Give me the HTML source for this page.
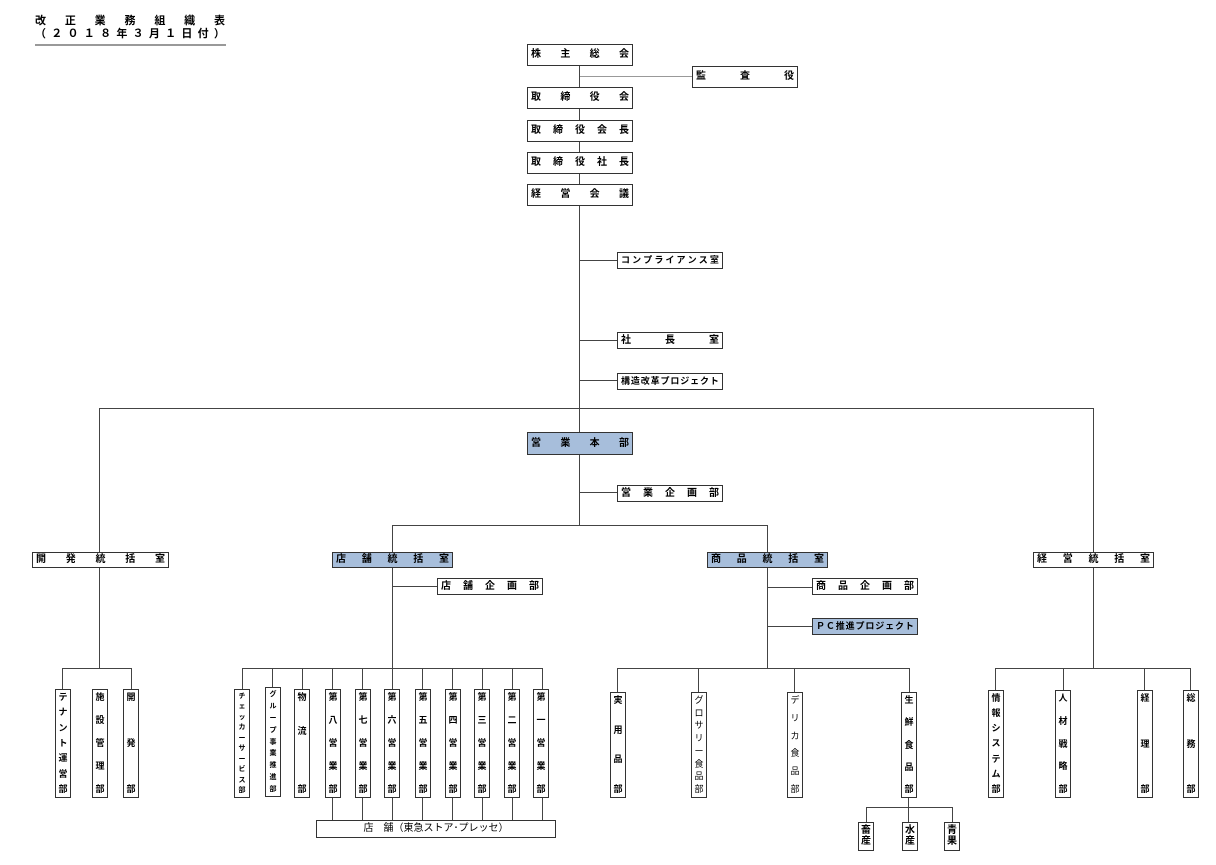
<!DOCTYPE html>
<html><head><meta charset="utf-8"><style>
body{margin:0;width:1216px;height:865px;background:#fff;position:relative;overflow:hidden;font-family:"Liberation Sans","Noto Sans CJK JP",sans-serif;}
.h,.v{position:absolute;box-sizing:border-box;border:1.5px solid #333;background:#fff;display:flex;justify-content:space-between;align-items:center;font-size:10px;font-weight:bold;color:#000;line-height:1;}
.h{padding:0 3px;}
.v{flex-direction:column;padding:3px 0;font-size:9px;}
.b{background:#a7bedb;}
.l{position:absolute;background:#444;}
.t{position:absolute;font-size:11px;font-weight:bold;display:flex;justify-content:space-between;width:190px;left:35px;line-height:1;}
</style></head><body>
<div class="t" style="top:16px"><span>改</span><span>正</span><span>業</span><span>務</span><span>組</span><span>織</span><span>表</span></div>
<div class="t" style="top:29px"><span>（</span><span>２</span><span>０</span><span>１</span><span>８</span><span>年</span><span>３</span><span>月</span><span>１</span><span>日</span><span>付</span><span>）</span></div>
<div class="l" style="left:35px;top:44px;width:191px;height:2px;background:#999"></div>

<!-- lines -->
<div class="l" style="left:579px;top:66px;width:1px;height:460px"></div>
<div class="l" style="left:580px;top:76px;width:112px;height:1px;background:#999"></div>
<div class="l" style="left:580px;top:260px;width:37px;height:1px"></div>
<div class="l" style="left:580px;top:340px;width:37px;height:1px"></div>
<div class="l" style="left:580px;top:380px;width:37px;height:1px"></div>
<div class="l" style="left:99px;top:408px;width:995px;height:1px"></div>
<div class="l" style="left:580px;top:492px;width:37px;height:1px"></div>
<div class="l" style="left:392px;top:525px;width:376px;height:1px"></div>
<div class="l" style="left:99px;top:408px;width:1px;height:260px"></div>
<div class="l" style="left:1093px;top:408px;width:1px;height:260px"></div>
<div class="l" style="left:392px;top:525px;width:1px;height:295px"></div>
<div class="l" style="left:767px;top:525px;width:1px;height:143px"></div>
<div class="l" style="left:392px;top:586px;width:45px;height:1px"></div>
<div class="l" style="left:767px;top:587px;width:45px;height:1px"></div>
<div class="l" style="left:767px;top:626px;width:45px;height:1px"></div>

<!-- row horizontals -->
<div class="l" style="left:62px;top:668px;width:70px;height:1px"></div>
<div class="l" style="left:242px;top:668px;width:301px;height:1px"></div>
<div class="l" style="left:617px;top:668px;width:293px;height:1px"></div>
<div class="l" style="left:995px;top:668px;width:196px;height:1px"></div>
<!-- drops -->
<div class="l" style="left:62px;top:668px;width:1px;height:22px"></div>
<div class="l" style="left:131px;top:668px;width:1px;height:22px"></div>
<div class="l" style="left:242px;top:668px;width:1px;height:22px"></div>
<div class="l" style="left:272px;top:668px;width:1px;height:22px"></div>
<div class="l" style="left:302px;top:668px;width:1px;height:22px"></div>
<div class="l" style="left:332px;top:668px;width:1px;height:22px"></div>
<div class="l" style="left:362px;top:668px;width:1px;height:22px"></div>
<div class="l" style="left:422px;top:668px;width:1px;height:22px"></div>
<div class="l" style="left:452px;top:668px;width:1px;height:22px"></div>
<div class="l" style="left:482px;top:668px;width:1px;height:22px"></div>
<div class="l" style="left:512px;top:668px;width:1px;height:22px"></div>
<div class="l" style="left:542px;top:668px;width:1px;height:22px"></div>
<div class="l" style="left:617px;top:668px;width:1px;height:24px"></div>
<div class="l" style="left:698px;top:668px;width:1px;height:24px"></div>
<div class="l" style="left:794px;top:668px;width:1px;height:24px"></div>
<div class="l" style="left:909px;top:668px;width:1px;height:24px"></div>
<div class="l" style="left:995px;top:668px;width:1px;height:22px"></div>
<div class="l" style="left:1063px;top:668px;width:1px;height:22px"></div>
<div class="l" style="left:1144px;top:668px;width:1px;height:22px"></div>
<div class="l" style="left:1190px;top:668px;width:1px;height:22px"></div>
<!-- bottom to store box -->
<div class="l" style="left:332px;top:797px;width:1px;height:23px"></div>
<div class="l" style="left:362px;top:797px;width:1px;height:23px"></div>
<div class="l" style="left:422px;top:797px;width:1px;height:23px"></div>
<div class="l" style="left:452px;top:797px;width:1px;height:23px"></div>
<div class="l" style="left:482px;top:797px;width:1px;height:23px"></div>
<div class="l" style="left:512px;top:797px;width:1px;height:23px"></div>
<div class="l" style="left:542px;top:797px;width:1px;height:23px"></div>
<!-- fresh sub -->
<div class="l" style="left:908px;top:797px;width:1px;height:25px"></div>
<div class="l" style="left:866px;top:807px;width:87px;height:1px"></div>
<div class="l" style="left:866px;top:807px;width:1px;height:15px"></div>
<div class="l" style="left:952px;top:807px;width:1px;height:15px"></div>

<!-- top boxes -->
<div class="h" style="left:527px;top:44px;width:106px;height:22px"><span>株</span><span>主</span><span>総</span><span>会</span></div>
<div class="h" style="left:692px;top:66px;width:106px;height:22px"><span>監</span><span>査</span><span>役</span></div>
<div class="h" style="left:527px;top:87px;width:106px;height:22px"><span>取</span><span>締</span><span>役</span><span>会</span></div>
<div class="h" style="left:527px;top:120px;width:106px;height:22px"><span>取</span><span>締</span><span>役</span><span>会</span><span>長</span></div>
<div class="h" style="left:527px;top:152px;width:106px;height:22px"><span>取</span><span>締</span><span>役</span><span>社</span><span>長</span></div>
<div class="h" style="left:527px;top:184px;width:106px;height:22px"><span>経</span><span>営</span><span>会</span><span>議</span></div>
<div class="h" style="left:617px;top:252px;width:106px;height:17px;font-size:9px"><span>コ</span><span>ン</span><span>プ</span><span>ラ</span><span>イ</span><span>ア</span><span>ン</span><span>ス</span><span>室</span></div>
<div class="h" style="left:617px;top:332px;width:106px;height:17px"><span>社</span><span>長</span><span>室</span></div>
<div class="h" style="left:617px;top:373px;width:106px;height:17px;font-size:9px"><span>構</span><span>造</span><span>改</span><span>革</span><span>プ</span><span>ロ</span><span>ジ</span><span>ェ</span><span>ク</span><span>ト</span></div>
<div class="h b" style="left:527px;top:432px;width:106px;height:23px"><span>営</span><span>業</span><span>本</span><span>部</span></div>
<div class="h" style="left:617px;top:485px;width:106px;height:17px"><span>営</span><span>業</span><span>企</span><span>画</span><span>部</span></div>

<div class="h" style="left:32px;top:552px;width:137px;height:16px"><span>開</span><span>発</span><span>統</span><span>括</span><span>室</span></div>
<div class="h b" style="left:332px;top:552px;width:121px;height:16px"><span>店</span><span>舗</span><span>統</span><span>括</span><span>室</span></div>
<div class="h b" style="left:707px;top:552px;width:121px;height:16px"><span>商</span><span>品</span><span>統</span><span>括</span><span>室</span></div>
<div class="h" style="left:1033px;top:552px;width:121px;height:16px"><span>経</span><span>営</span><span>統</span><span>括</span><span>室</span></div>
<div class="h" style="left:437px;top:578px;width:106px;height:17px"><span>店</span><span>舗</span><span>企</span><span>画</span><span>部</span></div>
<div class="h" style="left:812px;top:578px;width:106px;height:17px"><span>商</span><span>品</span><span>企</span><span>画</span><span>部</span></div>
<div class="h b" style="left:812px;top:618px;width:106px;height:17px;font-size:9px"><span>Ｐ</span><span>Ｃ</span><span>推</span><span>進</span><span>プ</span><span>ロ</span><span>ジ</span><span>ェ</span><span>ク</span><span>ト</span></div>

<!-- 開発 -->
<div class="v" style="left:55px;top:689px;width:16px;height:109px"><span>テ</span><span>ナ</span><span>ン</span><span>ト</span><span>運</span><span>営</span><span>部</span></div>
<div class="v" style="left:92px;top:689px;width:16px;height:109px"><span>施</span><span>設</span><span>管</span><span>理</span><span>部</span></div>
<div class="v" style="left:123px;top:689px;width:16px;height:109px"><span>開</span><span>発</span><span>部</span></div>
<!-- 店舗 -->
<div class="v" style="left:234px;top:689px;width:16px;height:109px;font-size:7px"><span>チ</span><span>ェ</span><span>ッ</span><span>カ</span><span>ー</span><span>サ</span><span>ー</span><span>ビ</span><span>ス</span><span>部</span></div>
<div class="v" style="left:265px;top:687px;width:16px;height:110px;font-size:7px"><span>グ</span><span>ル</span><span>ー</span><span>プ</span><span>事</span><span>業</span><span>推</span><span>進</span><span>部</span></div>
<div class="v" style="left:294px;top:689px;width:16px;height:109px"><span>物</span><span>流</span><span></span><span>部</span></div>
<div class="v" style="left:325px;top:689px;width:16px;height:109px"><span>第</span><span>八</span><span>営</span><span>業</span><span>部</span></div>
<div class="v" style="left:355px;top:689px;width:16px;height:109px"><span>第</span><span>七</span><span>営</span><span>業</span><span>部</span></div>
<div class="v" style="left:384px;top:689px;width:16px;height:109px"><span>第</span><span>六</span><span>営</span><span>業</span><span>部</span></div>
<div class="v" style="left:415px;top:689px;width:16px;height:109px"><span>第</span><span>五</span><span>営</span><span>業</span><span>部</span></div>
<div class="v" style="left:445px;top:689px;width:16px;height:109px"><span>第</span><span>四</span><span>営</span><span>業</span><span>部</span></div>
<div class="v" style="left:474px;top:689px;width:16px;height:109px"><span>第</span><span>三</span><span>営</span><span>業</span><span>部</span></div>
<div class="v" style="left:504px;top:689px;width:16px;height:109px"><span>第</span><span>二</span><span>営</span><span>業</span><span>部</span></div>
<div class="v" style="left:533px;top:689px;width:16px;height:109px"><span>第</span><span>一</span><span>営</span><span>業</span><span>部</span></div>
<div class="h" style="left:316px;top:820px;width:240px;height:18px;justify-content:center;font-weight:normal">店　舗（東急ストア･プレッセ）</div>
<!-- 商品 -->
<div class="v" style="left:610px;top:692px;width:16px;height:106px"><span>実</span><span>用</span><span>品</span><span>部</span></div>
<div class="v" style="left:691px;top:692px;width:16px;height:106px;font-weight:normal"><span>グ</span><span>ロ</span><span>サ</span><span>リ</span><span>ー</span><span>食</span><span>品</span><span>部</span></div>
<div class="v" style="left:787px;top:692px;width:16px;height:106px;font-weight:normal"><span>デ</span><span>リ</span><span>カ</span><span>食</span><span>品</span><span>部</span></div>
<div class="v" style="left:901px;top:692px;width:16px;height:106px"><span>生</span><span>鮮</span><span>食</span><span>品</span><span>部</span></div>
<div class="v" style="left:858px;top:822px;width:16px;height:29px;justify-content:space-around;font-size:10px"><span>畜</span><span>産</span></div>
<div class="v" style="left:902px;top:822px;width:16px;height:29px;justify-content:space-around;font-size:10px"><span>水</span><span>産</span></div>
<div class="v" style="left:944px;top:822px;width:16px;height:29px;justify-content:space-around;font-size:10px"><span>青</span><span>果</span></div>
<!-- 経営 -->
<div class="v" style="left:988px;top:690px;width:16px;height:108px"><span>情</span><span>報</span><span>シ</span><span>ス</span><span>テ</span><span>ム</span><span>部</span></div>
<div class="v" style="left:1055px;top:690px;width:16px;height:108px"><span>人</span><span>材</span><span>戦</span><span>略</span><span>部</span></div>
<div class="v" style="left:1137px;top:690px;width:16px;height:108px"><span>経</span><span>理</span><span>部</span></div>
<div class="v" style="left:1183px;top:690px;width:16px;height:108px"><span>総</span><span>務</span><span>部</span></div>
</body></html>
